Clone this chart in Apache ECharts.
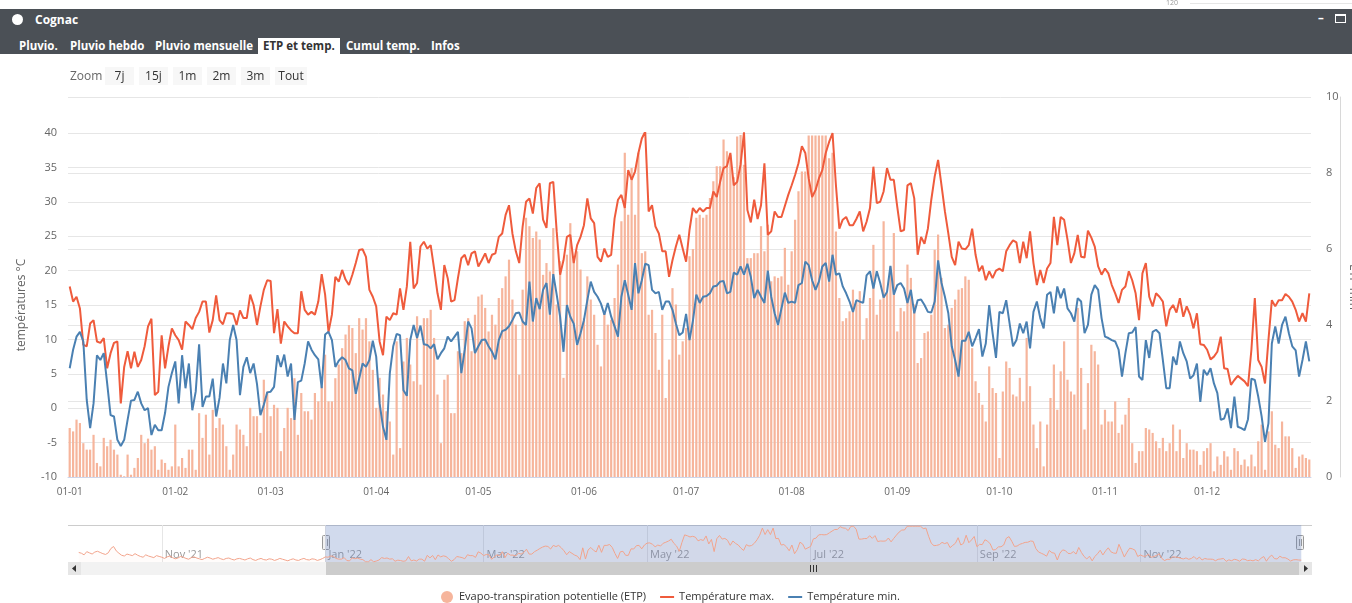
<!DOCTYPE html>
<html>
<head>
<meta charset="utf-8">
<script src="https://cdn.jsdelivr.net/npm/echarts@6/dist/echarts.min.js"></script>
<style>
  body { margin: 0; background: #fff; font-family: "Open Sans", sans-serif; }
  #wrap { position: relative; width: 1352px; height: 603px; overflow: hidden; }
  #chart { position: absolute; left: 0; top: 0; width: 1352px; height: 603px; }
  .hdr { position: absolute; left: 0; top: 9px; width: 1352px; height: 45px; background: #4b5056; }
  .hdr span { position: absolute; color: #fff; font-weight: bold; font-size: 11.5px; white-space: nowrap; }
  .dot { left: 12px; top: 5px; width: 11px; height: 11px; border-radius: 50%; background: #fff; }
  .tab { top: 29px; line-height: 16px; }
  .tab.on { background: #fff; color: #333 !important; padding: 0 5px; }
  .btn { position: absolute; top: 67px; height: 18px; line-height: 18px; width: 29px; text-align: center;
         background: #f7f7f7; color: #333; font-size: 12px; }
  .zl { position: absolute; left: 70px; top: 67px; line-height: 18px; font-size: 12px; color: #666; }
  .t120 { position: absolute; left: 1166px; top: -2px; font-size: 7px; color: #999; }
  .l120 { position: absolute; left: 1190px; top: 3px; width: 162px; height: 1px; background: #e6e6e6; }
</style>
</head>
<body>
<div id="wrap">
  <div id="chart"></div>
  <div class="t120">120</div><div class="l120"></div>
  <div class="hdr">
    <span class="dot"></span>
    <span style="left:35px;top:2px;font-size:12px;">Cognac</span>
    <span style="left:1318px;top:1px;">&#8211;</span>
    <span style="left:1335px;top:5px;width:9px;height:6px;border:1px solid #fff;border-top-width:2px;"></span>
    <span class="tab" style="left:19px;">Pluvio.</span>
    <span class="tab" style="left:70px;">Pluvio hebdo</span>
    <span class="tab" style="left:155px;">Pluvio mensuelle</span>
    <span class="tab on" style="left:258px;">ETP et temp.</span>
    <span class="tab" style="left:346px;">Cumul temp.</span>
    <span class="tab" style="left:431px;">Infos</span>
  </div>
  <div class="zl">Zoom</div>
  <div class="btn" style="left:105px;">7j</div>
  <div class="btn" style="left:139px;">15j</div>
  <div class="btn" style="left:173px;">1m</div>
  <div class="btn" style="left:207px;">2m</div>
  <div class="btn" style="left:241px;">3m</div>
  <div class="btn" style="left:275px;width:32px;">Tout</div>
</div>
<script>
// ETP (mm/jour), 1 Jan -> 31 Dec 2022
const etp = [
  1.29, 1.2, 1.51, 1.42, 0.89, 0.72, 0.72, 1.11, 0.37, 0.28,
  1.03, 0.81, 0.98, 0.72, 0.59, 0.06, 0.02, 0.59, 0.06, 0.24,
  0.5, 1.11, 0.89, 1.01, 0.72, 0.81, 0.19, 0.46, 0.37, 0.19,
  0.28, 1.38, 0.28, 0.5, 0.24, 0.72, 0.72, 0.19, 1.68, 1.03,
  1.64, 0.59, 1.77, 1.29, 1.55, 1.38, 0.81, 0.19, 0.59, 1.38,
  1.25, 1.11, 0.81, 1.82, 1.6, 1.6, 1.16, 2.56, 2.25, 1.6,
  1.9, 1.82, 0.68, 1.29, 1.82, 1.55, 2.6, 1.11, 2.21, 1.73,
  1.73, 1.51, 2.21, 1.99, 2.39, 3.22, 1.99, 1.99, 2.6, 2.96,
  3.39, 3.75, 4.0, 3.92, 3.26, 4.18, 3.88, 4.18, 3.57, 2.82,
  1.82,
  2.61, 2.17, 1.73, 1.46, 0.59, 3.57, 0.76, 3.04, 3.66, 2.96,
  2.52, 4.23, 2.43, 4.18, 4.18, 4.4, 3.66, 2.17, 0.89, 2.56,
  2.69, 1.68, 1.68, 3.31, 3.26, 4.1, 4.18, 3.31, 4.27, 4.75,
  4.8, 4.45, 3.83, 4.27, 4.01, 4.71, 4.97, 5.28, 5.72, 4.67,
  4.01, 2.69, 4.93, 6.82, 6.6, 6.29, 6.46, 6.25, 5.32, 5.63,
  5.41, 6.55, 4.54, 5.68, 2.61, 5.85, 6.68, 5.76, 5.94, 5.46,
  4.18, 5.28, 4.67, 4.27, 3.48, 2.91, 4.36, 4.01, 4.14, 4.71,
  5.59, 6.73, 8.53, 6.9, 8.13, 6.9, 8.53, 5.89, 5.94, 4.27,
  4.4, 3.79, 2.82, 4.27, 2.08, 3.09, 4.97, 4.54, 3.22, 3.57,
  3.92, 5.81, 6.0,
  6.82, 6.9, 6.82, 6.9, 7.34, 7.78, 8.18, 8.18, 8.88, 8.57,
  8.48, 7.89, 8.96, 9.0, 8.22, 5.76, 5.76, 5.89, 5.89, 6.6,
  5.94, 6.64, 5.15, 5.28, 5.24, 5.28, 6.03, 5.06, 5.94, 6.77,
  7.52, 8.04, 8.04, 8.99, 8.99, 8.99, 8.99, 8.99, 8.99, 8.39,
  8.53, 6.46, 4.71, 4.1, 4.18, 4.36, 4.93, 4.62, 4.89, 3.61,
  4.18, 4.71, 6.11, 4.27, 4.67, 6.73, 4.84, 5.54, 6.42,
  3.83, 4.45, 4.36, 5.59, 5.24, 4.54, 3.0, 3.13, 3.79, 3.83,
  4.27, 5.98, 6.38, 5.24, 3.92, 4.01, 4.45, 4.67, 4.93, 4.97,
  5.28, 5.19, 3.39, 2.52, 2.21, 1.9, 1.46, 2.91, 2.34,
  2.21, 0.5,
  2.25, 3.04,
  2.87, 2.17, 2.12, 2.61, 1.99, 3.66, 2.39, 1.38, 0.76, 1.46,
  0.28, 1.38, 2.08, 2.96, 1.77, 2.78, 3.57, 2.56, 2.25, 2.17,
  4.45, 2.87, 1.25, 2.47, 3.48, 3.31, 2.96, 1.38, 1.77,
  1.46, 1.46, 1.99, 1.16, 1.38, 1.64, 2.08, 0.89, 0.37, 0.68,
  0.68, 1.29, 1.25, 1.16, 0.94, 0.76, 1.03, 0.68, 0.89,
  1.38, 0.68, 1.25, 0.5, 0.89, 0.72, 0.72, 0.68, 0.32, 0.68,
  0.76, 0.89, 0.15, 0.54, 0.32, 0.68, 0.54, 0.19, 0.76, 0.68,
  0.32, 0.46, 0.28, 0.59, 0.28, 0.94, 1.38, 0.19, 1.2, 1.73,
  0.85, 0.76, 1.46, 1.07, 1.07, 0.76, 0.24, 0.54, 0.59, 0.5,
  0.46
];

// Température max. (°C)
const tmax = [
  17.7, 15.5, 16.2, 14.5, 9.2, 9.0, 12.3, 12.8, 9.7, 9.5,
  10.2, 5.8, 8.0, 9.5, 9.7, 0.7, 6.0, 8.3, 5.8, 8.2,
  6.0, 7.0, 9.0, 11.9, 13.0, 1.9, 2.4, 10.6, 5.8, 9.0,
  11.6, 10.6, 9.9, 8.5, 12.6, 12.1, 11.5, 13.1, 14.0, 15.5,
  15.5, 11.0, 12.8, 16.4, 12.8, 12.2, 13.8, 13.8, 13.7, 12.1,
  14.2, 13.1, 13.1, 16.5, 15.0, 12.1, 14.8, 17.2, 18.6, 18.5,
  10.9, 14.4, 9.4, 12.6, 11.9, 11.3, 10.9, 10.9, 17.0, 14.3,
  13.6, 14.0, 13.6, 15.5, 19.5, 16.5, 11.1, 13.6, 19.1, 18.4,
  20.1, 18.7, 17.9, 19.4, 21.1, 23.0, 23.1, 22.0, 17.2, 16.2,
  14.8,
  9.7, 7.7, 13.3, 12.8, 13.8, 13.6, 17.4, 14.3, 17.7, 24.2,
  17.4, 18.2, 23.5, 24.2, 23.2, 23.7, 20.3, 16.7, 14.3, 20.8,
  18.9, 15.5, 15.7, 18.9, 21.8, 22.3, 20.8, 22.5, 22.8, 20.6,
  21.5, 22.5, 21.1, 22.3, 22.5, 24.9, 25.4, 28.1, 29.5, 25.4,
  22.8, 21.1, 26.4, 30.0, 30.5, 28.3, 32.0, 32.7, 27.4, 26.2,
  32.7, 32.9, 25.7, 19.4, 21.5, 24.9, 25.2, 21.1, 23.7, 24.9,
  26.6, 30.5, 27.6, 26.9, 22.0, 21.3, 23.2, 22.0, 22.3, 27.6,
  30.3, 31.0, 29.1, 34.6, 33.2, 34.4, 37.1, 39.2, 40.2, 28.6,
  29.5, 26.4, 25.4, 22.8, 22.8, 19.1, 21.5, 23.5, 25.2, 23.2,
  21.3, 25.9, 29.1,
  28.4, 29.1, 28.6, 29.1, 29.1, 31.5, 30.7, 32.9, 34.9, 35.2,
  37.1, 32.4, 32.9, 35.4, 40.1, 28.8, 27.0, 30.3, 27.5, 29.5,
  35.6, 25.2, 25.7, 28.6, 27.8, 27.8, 29.4, 31.0, 32.4, 33.9,
  35.6, 38.1, 37.1, 33.4, 30.7, 31.7, 33.4, 34.6, 37.1, 38.7,
  40.0, 32.4, 26.1, 27.4, 27.8, 26.6, 26.6, 27.5, 28.6, 25.7,
  27.1, 29.1, 35.1, 29.8, 30.0, 31.5, 34.9, 33.2, 33.2,
  29.3, 25.7, 25.9, 32.4, 32.7, 30.5, 22.3, 24.9, 23.9, 26.1,
  30.3, 33.7, 36.1, 32.4, 28.6, 25.4, 22.0, 20.8, 24.2, 23.2,
  23.1, 23.7, 26.1, 22.3, 19.9, 20.7, 18.6, 19.9, 18.9,
  20.0, 20.3,
  19.9, 22.8,
  23.7, 24.4, 24.1, 21.1, 24.2, 21.8, 25.7, 21.1, 17.9, 20.1,
  18.2, 20.3, 21.1, 27.8, 23.7, 27.8, 27.4, 24.5, 21.1, 22.5,
  25.2, 22.0, 21.9, 25.8, 24.8, 23.5, 20.6, 19.4, 20.3, 19.6,
  17.9, 16.7, 15.3, 17.2, 17.7, 19.9, 18.6, 16.7, 12.8, 19.6,
  21.1, 16.2, 14.8, 16.7, 16.2, 15.5, 11.9, 14.3, 15.0, 13.9,
  16.0, 13.3, 14.8, 13.6, 11.6, 13.8, 9.3, 9.2, 8.5, 7.1,
  7.5, 8.2, 10.4, 5.8, 5.7, 3.4, 4.1, 4.7, 4.3, 3.9,
  3.2, 8.5, 16.0, 7.0, 6.0, 3.6, 9.9, 15.7, 14.8, 15.7,
  15.7, 16.6, 16.2, 15.5, 14.3, 12.6, 13.8, 12.6, 16.7
];

// Température min. (°C)
const tmin = [
  5.8, 8.5, 10.4, 11.1, 9.7, 1.2, -2.9, 0.7, 7.7, 7.0,
  8.0, 3.6, -1.0, -1.2, -4.6, -5.5, -4.6, -1.7, 1.1, 1.2,
  2.4, 0.7, -0.3, 0.0, -3.9, -2.4, -3.2, -3.2, -0.7, 3.1,
  5.1, 6.8, 0.7, 7.7, 2.9, 6.5, -0.3, 2.4, 9.3, 0.2,
  1.7, 1.7, 4.3, -1.2, 1.5, 6.5, 3.6, 9.9, 12.1, 9.9,
  1.9, 6.0, 7.4, 5.1, 6.5, 3.5, -1.0, 0.5, 2.3, 2.4,
  3.1, 7.7, 6.0, 7.8, 4.6, 6.5, -1.7, 3.8, 4.0, 6.5,
  9.7, 8.5, 7.7, 7.1, 2.9, 10.7, 11.1, 9.9, 6.0, 6.9,
  7.4, 7.0, 5.8, 5.5, 2.1, 4.3, 6.5, 6.0, 7.0, 9.8,
  7.5,
  0.7, -2.7, -4.6, 5.1, 9.0, 10.8, 10.6, 2.6, 1.8, 9.9,
  12.1, 10.2, 12.0, 9.3, 9.2, 8.7, 9.3, 7.1, 8.0, 8.7,
  10.4, 9.7, 10.4, 11.1, 5.1, 8.5, 12.6, 11.6, 8.0, 9.0,
  9.9, 10.0, 9.0, 8.2, 7.1, 9.9, 11.2, 11.4, 11.9, 12.8,
  13.8, 13.9, 12.6, 12.1, 18.4, 12.6, 16.0, 14.4, 17.2, 18.2,
  13.6, 19.5, 16.5, 13.3, 8.2, 15.0, 13.3, 12.3, 9.2, 10.9,
  12.8, 15.7, 18.4, 16.9, 16.2, 15.2, 13.6, 15.3, 13.3, 11.9,
  10.4, 16.2, 18.6, 16.5, 14.3, 21.1, 16.7, 18.6, 21.0, 20.8,
  17.2, 16.7, 16.9, 14.3, 15.5, 15.5, 14.3, 12.3, 10.6, 11.0,
  13.7, 9.9, 12.7,
  16.5, 15.3, 16.2, 16.3, 16.7, 17.7, 17.8, 18.4, 18.5, 16.7,
  16.9, 19.7, 19.4, 20.6, 19.4, 21.0, 19.1, 16.0, 17.2, 16.2,
  15.3, 20.0, 16.2, 13.8, 12.1, 14.5, 16.8, 15.3, 15.5, 15.3,
  17.9, 18.2, 21.3, 20.8, 18.6, 17.2, 18.4, 20.6, 21.1, 18.4,
  22.3, 19.4, 19.6, 17.7, 16.7, 15.5, 14.0, 15.7, 15.5, 15.3,
  19.3, 19.9, 17.4, 19.9, 18.2, 16.1, 16.9, 20.7, 16.5,
  17.9, 18.2, 17.4, 15.3, 17.2, 13.8, 15.7, 15.8, 15.0, 14.0,
  13.9, 15.5, 21.5, 18.2, 16.2, 13.8, 9.0, 7.0, 4.6, 9.8,
  9.8, 11.1, 9.0, 10.2, 11.5, 7.5, 9.4, 15.0, 10.9,
  7.3, 14.0,
  13.8, 15.7,
  12.3, 9.0, 9.9, 12.3, 10.9, 12.6, 8.7, 14.0, 15.5, 13.1,
  11.6, 16.5, 16.9, 13.8, 17.7, 16.0, 17.4, 14.5, 13.8, 12.6,
  16.0, 15.5, 10.9, 12.1, 16.5, 17.9, 17.2, 13.1, 10.4,
  10.2, 9.9, 9.7, 8.5, 4.6, 8.0, 10.9, 11.0, 11.8, 4.6,
  4.1, 9.9, 7.3, 11.1, 11.4, 10.9, 7.0, 2.9, 2.9,
  7.5, 6.3, 9.7, 8.0, 6.8, 4.3, 4.8, 6.5, 0.9, 5.6,
  4.8, 5.8, 3.6, 2.2, -1.7, -1.5, 0.0, -2.9, 1.7, -2.7,
  -2.9, -3.2, -1.6, 4.3, 4.1, 1.7, -1.2, -4.9, -2.2, 9.4,
  11.9, 9.4, 12.1, 13.3, 10.9, 9.0, 8.4, 4.6, 7.0, 9.7,
  6.8
];

// ETP Oct -> Dec 2021 (only visible in the navigator)
const etp2021 = [
  2.4, 2.2, 1.8, 2.6, 2.3, 2.0, 2.5, 2.7, 2.4, 2.1, 1.9, 2.3, 3.4, 3.9, 2.8, 2.2,
  1.7, 1.5, 2.0, 1.8, 1.6, 2.1, 1.7, 1.4, 1.2, 1.8, 1.5, 1.3, 1.1, 1.6, 1.4,
  1.2, 0.9, 1.3, 1.5, 1.1, 0.8, 1.0, 1.4, 1.2, 0.9, 0.7, 1.1, 1.3, 1.0, 0.8,
  0.6, 0.9, 1.2, 1.0, 0.7, 0.9, 1.1, 0.8, 0.6, 0.9, 1.0, 0.7, 0.5, 0.8, 0.9,
  0.7, 0.5, 0.8, 1.0, 0.6, 0.4, 0.7, 0.9, 0.6, 0.5, 0.8, 0.7, 0.4, 0.6, 0.9, 0.7,
  0.5, 0.3, 0.6, 0.8, 0.5, 0.4, 0.7, 0.9, 0.6, 0.5, 0.8, 0.7, 0.4, 0.6, 0.9
];

const leftTicks = { min: -10, max: 40, interval: 5 };
const rightTicks = { min: 0, max: 10, interval: 2 };
const monthsAbbr = ['Jan', 'Feb', 'Mar', 'Apr', 'May', 'Jun', 'Jul', 'Aug', 'Sep', 'Oct', 'Nov', 'Dec'];

function pad(n) { return (n < 10 ? '0' : '') + n; }

// categories for 2022, labelled DD-MM
const days = [];
for (let d = new Date(Date.UTC(2022, 0, 1)); d.getUTCFullYear() === 2022; d.setUTCDate(d.getUTCDate() + 1)) {
  days.push(pad(d.getUTCDate()) + '-' + pad(d.getUTCMonth() + 1));
}

// navigator categories: 27 Sep 2021 -> 4 Jan 2023
const navDays = [];
for (let d = new Date(Date.UTC(2021, 8, 27)); d <= new Date(Date.UTC(2023, 0, 4)); d.setUTCDate(d.getUTCDate() + 1)) {
  navDays.push(d.getUTCFullYear() + '-' + pad(d.getUTCMonth() + 1) + '-' + pad(d.getUTCDate()));
}
const navEtp = [null, null, null, null].concat(etp2021, etp, [null, null, null, null]);

const firstOfMonth = (i, v) => v.slice(0, 2) === '01';
const navMonth = (i, v) => v.slice(0, 4) !== '2023' && v.slice(8) === '01' && (+v.slice(5, 7)) % 2 === 1;

const C_ETP = '#f6b59c';
const C_MAX = '#ef5b3c';
const C_MIN = '#4a80b2';
const GRIDC = '#e6e6e6';
const LINE_ICON = 'path://M0,0H14V2H0Z';

const chart = echarts.init(document.getElementById('chart'));
chart.setOption({
  animation: false,
  textStyle: { fontFamily: 'Open Sans' },
  grid: [
    { left: 68, top: 97, width: 1243, height: 380, outerBoundsMode: 'none' },
    { left: 68, top: 133, width: 1243, height: 344, outerBoundsMode: 'none' },
    { left: 68, top: 525, width: 1244, height: 37, outerBoundsMode: 'none' }
  ],
  xAxis: [
    {
      gridIndex: 0, type: 'category', data: days, boundaryGap: true,
      axisLine: { lineStyle: { color: '#ccd6eb' } },
      axisTick: { interval: firstOfMonth, alignWithLabel: true, length: 5, lineStyle: { color: '#ccd6eb' } },
      axisLabel: { interval: firstOfMonth, color: '#666', fontSize: 10, margin: 10 }
    },
    { gridIndex: 1, type: 'category', data: days, boundaryGap: true, show: false },
    {
      gridIndex: 2, type: 'category', data: navDays, boundaryGap: false,
      axisLine: { show: false }, axisTick: { show: false },
      splitLine: { show: true, interval: navMonth, lineStyle: { color: GRIDC } },
      axisLabel: {
        interval: navMonth, inside: true, align: 'left', verticalAlign: 'bottom', margin: 2,
        padding: [0, 0, 0, 3], color: '#999', fontSize: 11,
        formatter: v => monthsAbbr[+v.slice(5, 7) - 1] + " '" + v.slice(2, 4)
      }
    }
  ],
  yAxis: [
    {
      gridIndex: 0, type: 'value', position: 'right',
      min: rightTicks.min, max: rightTicks.max, interval: rightTicks.interval,
      splitLine: { lineStyle: { color: GRIDC } },
      axisLine: { show: false }, axisTick: { show: false },
      axisLabel: { margin: 15, color: '#666', fontSize: 11 }
    },
    {
      gridIndex: 1, type: 'value',
      min: leftTicks.min, max: leftTicks.max, interval: leftTicks.interval,
      splitLine: { lineStyle: { color: GRIDC } },
      axisLabel: { color: '#666', fontSize: 11, margin: 11 },
      name: 'températures °C', nameLocation: 'middle', nameGap: 40,
      nameTextStyle: { color: '#666', fontSize: 12 }
    },
    { gridIndex: 2, type: 'value', min: 0, max: 9.3, show: false },
    {
      // outer line of the ETP axis, with its (cropped) title
      gridIndex: 0, type: 'value', position: 'right', offset: 29,
      min: rightTicks.min, max: rightTicks.max,
      splitLine: { show: false }, axisTick: { show: false }, axisLabel: { show: false },
      axisLine: { show: true, lineStyle: { color: '#d8d8d8' } },
      name: 'ETP mm', nameLocation: 'middle', nameRotate: -90, nameGap: 7,
      nameTextStyle: { color: '#666', fontSize: 12 }
    }
  ],
  legend: {
    top: 591, left: 441, padding: 0, itemWidth: 14, itemHeight: 12, itemGap: 14,
    textStyle: { color: '#333', fontSize: 11 },
    data: [
      { name: 'Evapo-transpiration potentielle (ETP)', icon: 'circle' },
      { name: 'Température max.', icon: LINE_ICON },
      { name: 'Température min.', icon: LINE_ICON }
    ]
  },
  series: [
    {
      name: 'Evapo-transpiration potentielle (ETP)', type: 'bar', xAxisIndex: 0, yAxisIndex: 0,
      data: etp, barWidth: 2.2, itemStyle: { color: C_ETP }
    },
    {
      name: 'Température max.', type: 'line', xAxisIndex: 1, yAxisIndex: 1, data: tmax,
      symbol: 'none', lineStyle: { width: 2, color: C_MAX }, itemStyle: { color: C_MAX }
    },
    {
      name: 'Température min.', type: 'line', xAxisIndex: 1, yAxisIndex: 1, data: tmin,
      symbol: 'none', lineStyle: { width: 2, color: C_MIN }, itemStyle: { color: C_MIN }
    },
    {
      type: 'line', xAxisIndex: 2, yAxisIndex: 2, data: navEtp, symbol: 'none', silent: true,
      lineStyle: { width: 1, color: '#f2a48c' }, areaStyle: { color: 'rgba(242,164,140,0.05)' },
      markArea: {
        silent: true, itemStyle: { color: 'rgba(102,133,194,0.3)' },
        data: [[{ xAxis: '2022-01-01' }, { xAxis: '2022-12-31' }]]
      }
    }
  ],
  graphic: [
    { type: 'line', shape: { x1: 68, y1: 525.5, x2: 1312, y2: 525.5 }, style: { stroke: '#cccccc' } },
    { type: 'rect', shape: { x: 68, y: 562, width: 1244, height: 13 }, style: { fill: '#f2f2f2' } },
    { type: 'rect', shape: { x: 326, y: 562, width: 974, height: 13 }, style: { fill: '#cccccc' } },
    { type: 'rect', shape: { x: 68, y: 562, width: 13, height: 13 }, style: { fill: '#e6e6e6' } },
    { type: 'rect', shape: { x: 1299, y: 562, width: 13, height: 13 }, style: { fill: '#e6e6e6' } },
    { type: 'polygon', shape: { points: [[76, 565], [76, 572], [72, 568.5]] }, style: { fill: '#333' } },
    { type: 'polygon', shape: { points: [[1304, 565], [1304, 572], [1308, 568.5]] }, style: { fill: '#333' } },
    { type: 'line', shape: { x1: 810.5, y1: 565, x2: 810.5, y2: 572 }, style: { stroke: '#333' } },
    { type: 'line', shape: { x1: 813.5, y1: 565, x2: 813.5, y2: 572 }, style: { stroke: '#333' } },
    { type: 'line', shape: { x1: 816.5, y1: 565, x2: 816.5, y2: 572 }, style: { stroke: '#333' } },
    { type: 'rect', shape: { x: 322.5, y: 535.5, width: 7, height: 14, r: 1 }, style: { fill: '#f2f2f2', stroke: '#999' } },
    { type: 'line', shape: { x1: 325.5, y1: 539, x2: 325.5, y2: 546 }, style: { stroke: '#999' } },
    { type: 'line', shape: { x1: 327.5, y1: 539, x2: 327.5, y2: 546 }, style: { stroke: '#999' } },
    { type: 'rect', shape: { x: 1296.5, y: 535.5, width: 7, height: 14, r: 1 }, style: { fill: '#f2f2f2', stroke: '#999' } },
    { type: 'line', shape: { x1: 1299.5, y1: 539, x2: 1299.5, y2: 546 }, style: { stroke: '#999' } },
    { type: 'line', shape: { x1: 1301.5, y1: 539, x2: 1301.5, y2: 546 }, style: { stroke: '#999' } }
  ]
});
</script>
</body>
</html>
